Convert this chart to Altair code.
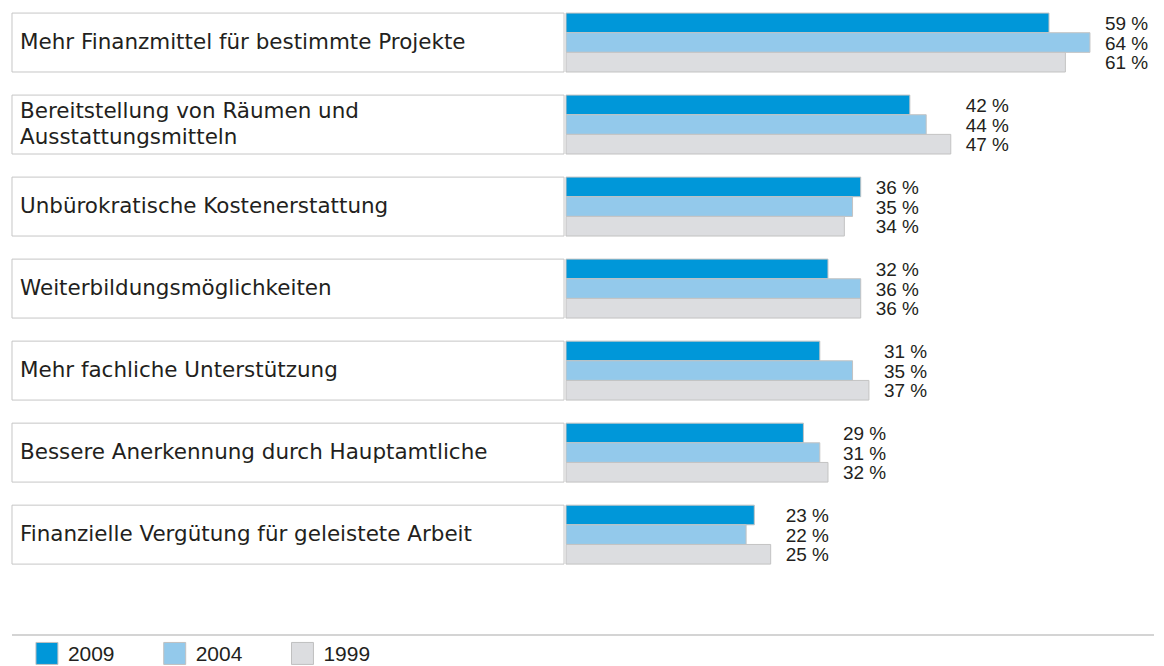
import altair as alt
import pandas as pd

categories = [
    "Mehr Finanzmittel für bestimmte Projekte",
    "Bereitstellung von Räumen und\nAusstattungsmitteln",
    "Unbürokratische Kostenerstattung",
    "Weiterbildungsmöglichkeiten",
    "Mehr fachliche Unterstützung",
    "Bessere Anerkennung durch Hauptamtliche",
    "Finanzielle Vergütung für geleistete Arbeit",
]
years = ["2009", "2004", "1999"]
values_2009 = [59, 42, 36, 32, 31, 29, 23]
values_2004 = [64, 44, 35, 36, 35, 31, 22]
values_1999 = [61, 47, 34, 36, 37, 32, 25]
colors = ["#0097d9", "#93c9eb", "#dcdde0"]

series = {"2009": values_2009, "2004": values_2004, "1999": values_1999}
rows = []
for y in years:
    for c, v in zip(categories, series[y]):
        rows.append({"cat": c, "year": y, "value": v})
df = pd.DataFrame(rows)
df_cat = pd.DataFrame({"cat": categories})
df_leg = pd.DataFrame({"year": years})
df_one = pd.DataFrame({"k": [0]})

TXT = "#231f20"
GRID = "#c6c6c6"

ysc = alt.Scale(domain=categories, paddingInner=0.2814, paddingOuter=0.0548)
ysc2 = alt.Scale(domain=categories, paddingInner=0.2814, paddingOuter=0.0548)
yoff = alt.Scale(domain=years, paddingInner=0, paddingOuter=0)
csc = alt.Scale(domain=years, range=colors)
xsc = alt.Scale(domain=[0, 72.07], nice=False, zero=True)

H = 561
LW = 557
RW = 591

box = alt.Chart(df_cat).mark_rect(fill="white", stroke=GRID, strokeWidth=1).encode(
    y=alt.Y("cat:N", scale=ysc, axis=None),
    x=alt.value(4),
    x2=alt.value(LW),
)
lab_kw = dict(align="left", baseline="middle", font="DejaVu Sans", fontSize=21.5,
              lineBreak="\n", lineHeight=26, color=TXT)
lab1 = alt.Chart(df_cat).transform_filter(
    "indexof(datum.cat, '\\n') < 0"
).mark_text(**lab_kw).encode(
    y=alt.Y("cat:N", scale=ysc, axis=None),
    x=alt.value(12),
    text="cat:N",
)
lab2 = alt.Chart(df_cat).transform_filter(
    "indexof(datum.cat, '\\n') >= 0"
).mark_text(dy=-13, **lab_kw).encode(
    y=alt.Y("cat:N", scale=ysc, axis=None),
    x=alt.value(12),
    text="cat:N",
)
left = (box + lab1 + lab2).properties(width=LW, height=H)

bars = alt.Chart(df).mark_bar(stroke="#c3c3c3", strokeWidth=1).encode(
    x=alt.X("value:Q", scale=xsc, axis=None),
    y=alt.Y("cat:N", scale=ysc2, axis=None),
    yOffset=alt.YOffset("year:N", scale=yoff),
    color=alt.Color("year:N", scale=csc, legend=None),
)
pct = alt.Chart(df).transform_joinaggregate(
    gmax="max(value)", groupby=["cat"]
).transform_calculate(
    lbl="datum.value + ' %'"
).mark_text(
    align="left", baseline="middle", dx=15, dy=1,
    font="Liberation Sans", fontSize=19, color=TXT,
).encode(
    x=alt.X("gmax:Q", scale=xsc, axis=None),
    y=alt.Y("cat:N", scale=ysc2, axis=None),
    yOffset=alt.YOffset("year:N", scale=yoff),
    text="lbl:N",
)
right = (bars + pct).properties(width=RW, height=H)

top = alt.hconcat(left, right, spacing=0).resolve_scale(
    x="independent", y="independent", color="independent"
)

rule = alt.Chart(df_one).mark_rule(color=GRID, strokeWidth=1.5).encode(
    x=alt.value(4), x2=alt.value(LW + RW), y=alt.value(66.5)
)
xleg = alt.Scale(type="point", domain=years, range=[39, 295], padding=0)
sq = alt.Chart(df_leg).mark_square(size=484, opacity=1, stroke="#c0c0c0", strokeWidth=1).encode(
    x=alt.X("year:N", scale=xleg, axis=None),
    y=alt.value(85),
    color=alt.Color("year:N", scale=csc, legend=None),
)
sqt = alt.Chart(df_leg).mark_text(
    align="left", baseline="middle", dx=21, dy=2,
    font="Liberation Sans", fontSize=21, color=TXT,
).encode(
    x=alt.X("year:N", scale=xleg, axis=None),
    y=alt.value(85),
    text="year:N",
)
legend = (rule + sq + sqt).properties(width=LW + RW, height=97)

chart = alt.vconcat(top, legend, spacing=0).resolve_scale(
    x="independent", y="independent", color="independent"
).properties(padding=0).configure_view(strokeWidth=0)

chart.save("out.html", embed_options={"renderer": "svg", "actions": False})
